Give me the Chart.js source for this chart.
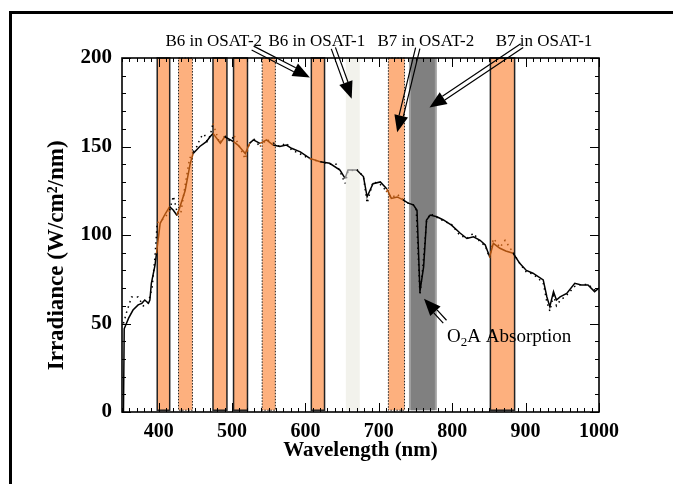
<!DOCTYPE html>
<html>
<head>
<meta charset="utf-8">
<script src="https://cdn.jsdelivr.net/npm/chart.js@4"></script>
<style>
  html, body { margin: 0; padding: 0; background: #fff; }
  #wrap { width: 673px; height: 484px; }
</style>
</head>
<body>
<div id="wrap"><canvas id="grafico" width="673" height="484"></canvas></div>
<script>
// Espectro medido (linha contínua): comprimento de onda (nm) e irradiância
const wlSolid = [352, 353, 355, 359, 365, 372, 377, 381, 386, 388, 390, 395, 397, 402, 409, 415, 420, 425, 429, 436,
  443, 447, 456, 465, 470, 474, 484, 490, 502, 508, 518, 524, 529, 538, 547, 556, 565, 574, 581, 593,
  606, 620, 633, 647, 654, 658, 670, 679, 684, 692, 702, 711, 717, 725, 733, 740, 747, 752, 756, 761,
  765, 770, 779, 788, 799, 811, 820, 829, 838, 845, 851, 856, 865, 873, 883, 892, 901, 910, 924, 929,
  933, 938, 942, 947, 956, 967, 976, 985, 994, 1000];
const irrSolid = [0, 47, 49, 53, 57.6, 60.5, 61.4, 63.3, 61.4, 63.3, 72.7, 83, 89.7, 106.6, 112, 116, 114, 111, 116, 125,
  140.5, 146, 150, 152.7, 155.5, 157.4, 151.8, 155.5, 152.7, 150.8, 146, 151.8, 153.7, 151.8, 153.7, 150.8, 150, 150.8, 149, 147,
  143.3, 141.4, 140.5, 136.7, 132, 136.7, 136.7, 133, 121.6, 129, 130, 126, 120.7, 121.5, 119.8, 118, 117, 114, 68, 82,
  108.5, 111.3, 110.3, 108.5, 105.6, 101, 98, 99, 97, 94.4, 87.7, 95.3, 92.5, 91, 89.7, 84, 80, 78.4, 74.6, 65,
  59.5, 68, 63.3, 65, 67, 72.7, 71.8, 71.8, 68, 70];

// Espectro modelado (linha pontilhada)
const wlDotted = [352, 356, 363, 372, 379, 386, 391, 395, 398, 403, 409, 415, 420, 425, 430, 436, 442, 447, 452, 457,
  462, 466, 470, 474, 478, 483, 490, 497, 503, 510, 518, 524, 530, 538, 547, 556, 565, 574, 581, 592,
  606, 615, 626, 633, 642, 647, 654, 658, 670, 679, 684, 692, 701, 710, 717, 725, 733, 740, 747, 751,
  756, 760, 765, 770, 779, 788, 799, 810, 820, 829, 838, 845, 851, 856, 860, 865, 872, 883, 892, 901,
  910, 924, 929, 933, 938, 942, 947, 956, 967, 976, 985, 994, 1000];
const irrDotted = [50, 56, 65, 65, 60, 62, 70, 88, 107, 108, 110, 114, 122, 113, 112, 128, 143, 147, 150, 155,
  157, 153, 156, 163, 158, 152, 156, 153, 156, 150, 143, 152, 154, 150, 154, 152, 150, 152, 148, 146,
  143, 142, 141, 140, 140, 136, 129, 136, 137, 133, 118, 130, 129, 125, 121, 123, 120, 118, 117, 114,
  66, 82, 108, 112, 110, 108, 106, 100, 98, 101, 96, 94, 87, 98, 96, 93, 97, 90, 84, 79,
  78, 73, 62, 57, 66, 60, 63, 66, 71, 72, 72, 69, 69];

// Faixas espectrais (nm)
const bandStart = [398, 427, 474, 502, 541, 608, 655, 713, 741, 852];
const bandEnd   = [415, 446, 493, 521, 559, 626, 674, 735, 779, 885];
// estilo de cada faixa
const bandStyle = ['solid', 'dotted', 'solid', 'solid', 'dotted', 'solid', 'light', 'dotted', 'gray', 'solid'];

// Ticks
const xTicks = [400, 500, 600, 700, 800, 900, 1000];
const yTicks = [0, 50, 100, 150, 200];

// Anotações (coordenadas de dados)
const noteText = ['B6 in OSAT-2', 'B6 in OSAT-1', 'B7 in OSAT-2', 'B7 in OSAT-1'];
const noteX = [475, 615.5, 764, 925];
const arrowFrom = [[528, 205.6], [638, 205.6], [753, 205.6], [895, 207], [790, 51]];
const arrowTo   = [[606, 189], [663, 177], [725, 158], [769, 172], [761.5, 64]];

const LARANJA = '#fdb07e';
const MARROM = '#a9500f';
const serif = '"Liberation Serif", "Times New Roman", serif';

function corSegmento(x) {
  for (let i = 0; i < bandStart.length; i++) {
    if (x >= bandStart[i] && x <= bandEnd[i]) {
      if (bandStyle[i] === 'light') return '#8a8a8a';
      if (bandStyle[i] === 'gray') return undefined;
      return MARROM;
    }
  }
  return undefined;
}

// Desenha as faixas atrás das curvas
const pluginFaixas = {
  id: 'faixas',
  beforeDatasetsDraw(chart) {
    const { ctx, scales: { x, y } } = chart;
    ctx.save();
    for (let i = 0; i < bandStart.length; i++) {
      const x0 = x.getPixelForValue(bandStart[i]);
      const x1 = x.getPixelForValue(bandEnd[i]);
      const y0 = y.getPixelForValue(200);
      const y1 = y.getPixelForValue(1);
      const st = bandStyle[i];
      if (st === 'light') {
        ctx.fillStyle = '#f2f2ec';
        ctx.fillRect(x0, y0, x1 - x0, y1 - y0);
      } else if (st === 'gray') {
        ctx.fillStyle = '#a0a0a0';
        ctx.fillRect(x0, y0, x1 - x0, y1 - y0);
        ctx.fillStyle = '#808080';
        ctx.fillRect(x0 + 2, y0, x1 - x0 - 4, y1 - y0);
      } else {
        ctx.fillStyle = LARANJA;
        ctx.fillRect(x0, y0, x1 - x0, y1 - y0);
        ctx.strokeStyle = '#222';
        ctx.lineWidth = st === 'dotted' ? 1 : 1.5;
        ctx.setLineDash(st === 'dotted' ? [1.5, 1.5] : []);
        ctx.strokeRect(x0, y0, x1 - x0, y1 - y0);
        ctx.setLineDash([]);
      }
    }
    ctx.restore();
  }
};

function seta(ctx, x0, y0, x1, y1) {
  const ang = Math.atan2(y1 - y0, x1 - x0);
  const head = 17, hw = 7;
  const c = Math.cos(ang), s = Math.sin(ang);
  const bx = x1 - head * c, by = y1 - head * s;
  const nx = -s * 2.2, ny = c * 2.2;
  ctx.strokeStyle = '#000';
  ctx.lineWidth = 1.2;
  ctx.beginPath();
  ctx.moveTo(x0 + nx, y0 + ny); ctx.lineTo(bx + nx, by + ny);
  ctx.moveTo(x0 - nx, y0 - ny); ctx.lineTo(bx - nx, by - ny);
  ctx.stroke();
  ctx.fillStyle = '#000';
  ctx.beginPath();
  ctx.moveTo(x1, y1);
  ctx.lineTo(bx - s * hw, by + c * hw);
  ctx.lineTo(bx + s * hw, by - c * hw);
  ctx.closePath();
  ctx.fill();
}

// Eixos estilo IDL, setas e textos
const pluginEixos = {
  id: 'eixos',
  afterDraw(chart) {
    const { ctx, chartArea: a, scales: { x, y } } = chart;
    ctx.save();
    ctx.strokeStyle = '#000';
    ctx.lineWidth = 1;
    ctx.beginPath();
    for (let v = 350; v <= 1000; v += 10) {
      const px = Math.round(x.getPixelForValue(v)) + 0.5;
      const len = v % 100 === 0 ? 9 : 4;
      ctx.moveTo(px, a.bottom); ctx.lineTo(px, a.bottom - len);
      ctx.moveTo(px, a.top); ctx.lineTo(px, a.top + len);
    }
    for (let v = 0; v <= 200; v += 10) {
      const py = Math.round(y.getPixelForValue(v)) + 0.5;
      const len = v % 50 === 0 ? 9 : 4;
      ctx.moveTo(a.left, py); ctx.lineTo(a.left + len, py);
      ctx.moveTo(a.right, py); ctx.lineTo(a.right - len, py);
    }
    ctx.stroke();
    ctx.lineWidth = 1.6;
    ctx.strokeRect(a.left, a.top, a.right - a.left, a.bottom - a.top);

    // setas
    for (let i = 0; i < arrowFrom.length; i++) {
      seta(ctx, x.getPixelForValue(arrowFrom[i][0]), y.getPixelForValue(arrowFrom[i][1]),
        x.getPixelForValue(arrowTo[i][0]), y.getPixelForValue(arrowTo[i][1]));
    }

    // textos
    ctx.fillStyle = '#000';
    ctx.font = '17px ' + serif;
    ctx.textAlign = 'center';
    ctx.textBaseline = 'alphabetic';
    const yTxt = y.getPixelForValue(207);
    for (let i = 0; i < noteText.length; i++) {
      ctx.fillText(noteText[i], x.getPixelForValue(noteX[i]), yTxt);
    }
    ctx.textAlign = 'left';
    let tx = x.getPixelForValue(793);
    const ty = y.getPixelForValue(39.5);
    ctx.font = '19px ' + serif;
    ctx.fillText('O', tx, ty);
    tx += ctx.measureText('O').width;
    ctx.font = '13px ' + serif;
    ctx.fillText('2', tx, ty + 4);
    tx += ctx.measureText('2').width;
    ctx.font = '19px ' + serif;
    ctx.fillText('A Absorption', tx, ty);

    // título do eixo y
    ctx.save();
    ctx.translate(57, y.getPixelForValue(88.5));
    ctx.rotate(-Math.PI / 2);
    ctx.textAlign = 'center';
    ctx.textBaseline = 'middle';
    ctx.font = 'bold 23px ' + serif;
    ctx.fillText('Irradiance (W/cm²/nm)', 0, 0);
    ctx.restore();

    // moldura da figura
    ctx.lineWidth = 3;
    ctx.beginPath();
    ctx.moveTo(10.5, 484); ctx.lineTo(10.5, 12.5); ctx.lineTo(673, 12.5);
    ctx.stroke();
    ctx.restore();
  }
};

const pontos = (xs, ys) => xs.map((v, i) => ({ x: v, y: ys[i] }));

new Chart(document.getElementById('grafico'), {
  type: 'line',
  data: {
    datasets: [{
      label: 'Medido',
      data: pontos(wlSolid, irrSolid),
      borderColor: '#000',
      borderWidth: 1.5,
      pointRadius: 0,
      tension: 0,
      segment: { borderColor: c => corSegmento((c.p0.parsed.x + c.p1.parsed.x) / 2) }
    }, {
      label: 'Modelo',
      data: pontos(wlDotted, irrDotted),
      borderColor: '#000',
      borderWidth: 1.5,
      borderDash: [1.5, 4],
      pointRadius: 0,
      tension: 0,
      segment: { borderColor: c => corSegmento((c.p0.parsed.x + c.p1.parsed.x) / 2) }
    }]
  },
  options: {
    responsive: false,
    animation: false,
    devicePixelRatio: 1,
    layout: { padding: { top: 58, right: 74, left: 0, bottom: 0 } },
    plugins: { legend: { display: false }, tooltip: { enabled: false } },
    scales: {
      x: {
        type: 'linear',
        min: 350,
        max: 1000,
        afterFit(s) { s.height = 72; },
        afterBuildTicks(s) { s.ticks = xTicks.map(v => ({ value: v })); },
        grid: { display: false, drawTicks: false },
        border: { display: false },
        ticks: { color: '#000', font: { family: serif, size: 20, weight: 'bold' }, padding: 8, maxRotation: 0, callback: v => String(v) },
        title: { display: true, text: 'Wavelength (nm)', color: '#000', font: { family: serif, size: 21, weight: 'bold' }, padding: { top: 0, bottom: 21 } }
      },
      y: {
        min: 0,
        max: 200,
        afterFit(s) { s.width = 122; },
        afterBuildTicks(s) { s.ticks = yTicks.map(v => ({ value: v })); },
        grid: { display: false, drawTicks: false },
        border: { display: false },
        ticks: { color: '#000', font: { family: serif, size: 21, weight: 'bold' }, padding: 10, callback: v => String(v) },
        title: { display: false }
      }
    }
  },
  plugins: [pluginFaixas, pluginEixos]
});
</script>
</body>
</html>
